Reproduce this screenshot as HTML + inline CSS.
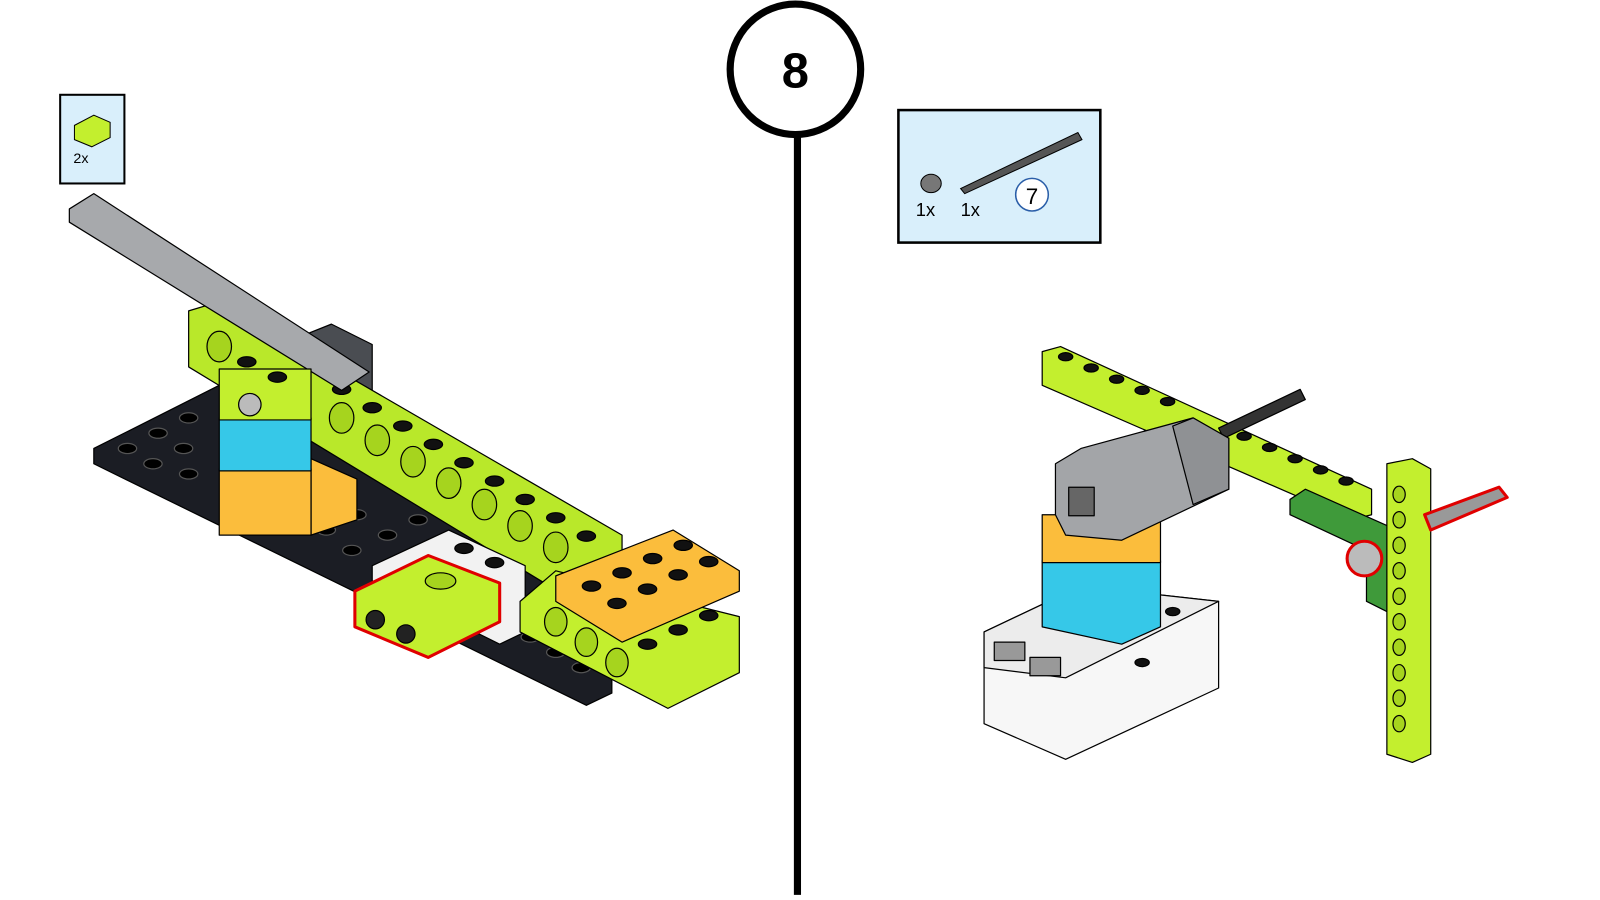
<!DOCTYPE html>
<html><head><meta charset="utf-8">
<style>
html,body{margin:0;padding:0;background:#fff;width:1600px;height:900px;overflow:hidden}
svg{display:block}
text{font-family:"Liberation Sans",sans-serif}
</style></head>
<body>
<svg width="1600" height="900" viewBox="0 0 1569 883" preserveAspectRatio="none" xmlns="http://www.w3.org/2000/svg">
<g stroke="#000" stroke-width="1.2" stroke-linejoin="round">
<!-- LEFT MODEL -->
<polygon points="92,440 215,378 600,575 600,680 575,692 92,455" fill="#1b1d24"/>
<g fill="#000" stroke="#555">
<ellipse cx="125" cy="440" rx="9" ry="5"/><ellipse cx="155" cy="425" rx="9" ry="5"/><ellipse cx="185" cy="410" rx="9" ry="5"/>
<ellipse cx="150" cy="455" rx="9" ry="5"/><ellipse cx="180" cy="440" rx="9" ry="5"/><ellipse cx="185" cy="465" rx="9" ry="5"/>
<ellipse cx="320" cy="520" rx="9" ry="5"/><ellipse cx="350" cy="505" rx="9" ry="5"/><ellipse cx="380" cy="525" rx="9" ry="5"/>
<ellipse cx="410" cy="510" rx="9" ry="5"/><ellipse cx="440" cy="530" rx="9" ry="5"/><ellipse cx="345" cy="540" rx="9" ry="5"/>
<ellipse cx="520" cy="625" rx="9" ry="5"/><ellipse cx="545" cy="640" rx="9" ry="5"/><ellipse cx="570" cy="655" rx="9" ry="5"/>
<ellipse cx="300" cy="490" rx="9" ry="5"/><ellipse cx="330" cy="495" rx="9" ry="5"/><ellipse cx="480" cy="600" rx="9" ry="5"/>
</g>
<polygon points="295,330 325,318 365,338 365,390 335,405 295,385" fill="#4a4d52"/>
<polygon points="185,305 215,296 610,525 610,590 580,600 185,360" fill="#b9e82a"/>
<g fill="#a6d41e">
<ellipse cx="215" cy="340" rx="12" ry="15"/><ellipse cx="335" cy="410" rx="12" ry="15"/><ellipse cx="370" cy="432" rx="12" ry="15"/>
<ellipse cx="405" cy="453" rx="12" ry="15"/><ellipse cx="440" cy="474" rx="12" ry="15"/><ellipse cx="475" cy="495" rx="12" ry="15"/>
<ellipse cx="510" cy="516" rx="12" ry="15"/><ellipse cx="545" cy="537" rx="12" ry="15"/>
</g>
<g fill="#111">
<ellipse cx="335" cy="382" rx="9" ry="5"/><ellipse cx="365" cy="400" rx="9" ry="5"/><ellipse cx="395" cy="418" rx="9" ry="5"/>
<ellipse cx="425" cy="436" rx="9" ry="5"/><ellipse cx="455" cy="454" rx="9" ry="5"/><ellipse cx="485" cy="472" rx="9" ry="5"/>
<ellipse cx="515" cy="490" rx="9" ry="5"/><ellipse cx="545" cy="508" rx="9" ry="5"/><ellipse cx="575" cy="526" rx="9" ry="5"/>
</g>
<polygon points="68,205 92,190 362,365 335,383 68,218" fill="#a7a9ac"/>
<polygon points="305,450 350,470 350,510 305,525" fill="#fbbd3c"/>
<rect x="215" y="460" width="90" height="65" fill="#fbbd3c"/>
<rect x="215" y="410" width="90" height="52" fill="#36c8e8"/>
<rect x="215" y="362" width="90" height="50" fill="#c3ef2e"/>
<circle cx="245" cy="397" r="11" fill="#bbb"/>
<ellipse cx="242" cy="355" rx="9" ry="5" fill="#111"/><ellipse cx="272" cy="370" rx="9" ry="5" fill="#111"/>
<polygon points="365,555 440,520 515,555 515,620 490,632 365,570" fill="#f2f2f2"/>
<ellipse cx="455" cy="538" rx="9" ry="5" fill="#111"/><ellipse cx="485" cy="552" rx="9" ry="5" fill="#111"/>
<polygon points="348,580 420,545 490,572 490,610 420,645 348,615" fill="#c3ef2e" stroke="#e00000" stroke-width="3"/>
<ellipse cx="432" cy="570" rx="15" ry="8" fill="#a6d41e"/>
<circle cx="368" cy="608" r="9" fill="#222"/><circle cx="398" cy="622" r="9" fill="#222"/>
<polygon points="510,590 545,560 725,605 725,660 655,695 510,620" fill="#c3ef2e"/>
<ellipse cx="545" cy="610" rx="11" ry="14" fill="#a6d41e"/><ellipse cx="575" cy="630" rx="11" ry="14" fill="#a6d41e"/><ellipse cx="605" cy="650" rx="11" ry="14" fill="#a6d41e"/>
<polygon points="545,565 660,520 725,560 725,580 610,630 545,590" fill="#fbbd3c"/>
<g fill="#111">
<ellipse cx="580" cy="575" rx="9" ry="5"/><ellipse cx="610" cy="562" rx="9" ry="5"/><ellipse cx="640" cy="548" rx="9" ry="5"/><ellipse cx="670" cy="535" rx="9" ry="5"/>
<ellipse cx="605" cy="592" rx="9" ry="5"/><ellipse cx="635" cy="578" rx="9" ry="5"/><ellipse cx="665" cy="564" rx="9" ry="5"/><ellipse cx="695" cy="551" rx="9" ry="5"/>
<ellipse cx="635" cy="632" rx="9" ry="5"/><ellipse cx="665" cy="618" rx="9" ry="5"/><ellipse cx="695" cy="604" rx="9" ry="5"/>
</g>

<!-- RIGHT MODEL -->
<polygon points="1022,345 1040,340 1345,480 1345,505 1325,510 1022,378" fill="#c3ef2e"/>
<g fill="#111">
<ellipse cx="1045" cy="350" rx="7" ry="4"/><ellipse cx="1070" cy="361" rx="7" ry="4"/><ellipse cx="1095" cy="372" rx="7" ry="4"/><ellipse cx="1120" cy="383" rx="7" ry="4"/><ellipse cx="1145" cy="394" rx="7" ry="4"/>
<ellipse cx="1220" cy="428" rx="7" ry="4"/><ellipse cx="1245" cy="439" rx="7" ry="4"/><ellipse cx="1270" cy="450" rx="7" ry="4"/><ellipse cx="1295" cy="461" rx="7" ry="4"/><ellipse cx="1320" cy="472" rx="7" ry="4"/>
</g>
<polygon points="1195,420 1275,382 1280,392 1200,430" fill="#333"/>
<polygon points="965,620 1060,575 1195,590 1195,675 1045,745 965,710" fill="#f7f7f7"/>
<polygon points="965,620 1060,575 1195,590 1045,665 965,655" fill="#ececec"/>
<rect x="975" y="630" width="30" height="18" fill="#999"/><rect x="1010" y="645" width="30" height="18" fill="#999"/>
<g fill="#111"><ellipse cx="1060" cy="610" rx="7" ry="4"/><ellipse cx="1090" cy="625" rx="7" ry="4"/><ellipse cx="1150" cy="600" rx="7" ry="4"/><ellipse cx="1120" cy="650" rx="7" ry="4"/></g>
<polygon points="1022,550 1138,550 1138,615 1100,632 1022,615" fill="#36c8e8"/>
<polygon points="1022,505 1138,505 1138,552 1022,552" fill="#fbbd3c"/>
<polygon points="1035,455 1060,440 1170,410 1205,430 1205,480 1100,530 1045,525 1035,505" fill="#a3a5a8"/>
<polygon points="1150,418 1170,410 1205,430 1205,480 1170,495" fill="#8f9194"/>
<rect x="1048" y="478" width="25" height="28" fill="#666"/>
<polygon points="1265,490 1280,480 1370,520 1380,595 1360,600 1340,590 1340,540 1265,505" fill="#3f9a3a"/>
<polygon points="1360,455 1385,450 1403,460 1403,740 1385,748 1360,740" fill="#c3ef2e"/>
<g fill="#a6d41e">
<ellipse cx="1372" cy="485" rx="6" ry="8"/><ellipse cx="1372" cy="510" rx="6" ry="8"/><ellipse cx="1372" cy="535" rx="6" ry="8"/><ellipse cx="1372" cy="560" rx="6" ry="8"/>
<ellipse cx="1372" cy="585" rx="6" ry="8"/><ellipse cx="1372" cy="610" rx="6" ry="8"/><ellipse cx="1372" cy="635" rx="6" ry="8"/><ellipse cx="1372" cy="660" rx="6" ry="8"/>
<ellipse cx="1372" cy="685" rx="6" ry="8"/><ellipse cx="1372" cy="710" rx="6" ry="8"/>
</g>
<polygon points="1397,505 1470,478 1478,488 1403,520" fill="#999" stroke="#e00000" stroke-width="3"/>
<circle cx="1338" cy="548" r="17" fill="#bbb" stroke="#e00000" stroke-width="3"/>
</g>

<line x1="782" y1="130" x2="782" y2="878" stroke="#000" stroke-width="7"/>
<circle cx="780" cy="68" r="64" fill="#fff" stroke="#000" stroke-width="7"/>
<text x="780" y="86" font-size="48" font-weight="bold" text-anchor="middle">8</text>

<rect x="59" y="93" width="63" height="87" fill="#d9effb" stroke="#000" stroke-width="2"/>
<polygon points="73,123 92,113 108,120 108,135 90,144 73,137" fill="#c3ef2e" stroke="#000"/>
<text x="72" y="160" font-size="14">2x</text>

<rect x="881" y="108" width="198" height="130" fill="#d9effb" stroke="#000" stroke-width="2.5"/>
<ellipse cx="913" cy="180" rx="10" ry="9" fill="#777" stroke="#000"/>
<polygon points="942,185 1057,130 1061,137 946,190" fill="#555" stroke="#000"/>
<text x="898" y="212" font-size="18">1x</text>
<text x="942" y="212" font-size="18">1x</text>
<circle cx="1012" cy="191" r="16" fill="#fff" stroke="#2a5ea8" stroke-width="1.5"/>
<text x="1012" y="200" font-size="22" text-anchor="middle">7</text>
</svg>
</body></html>
